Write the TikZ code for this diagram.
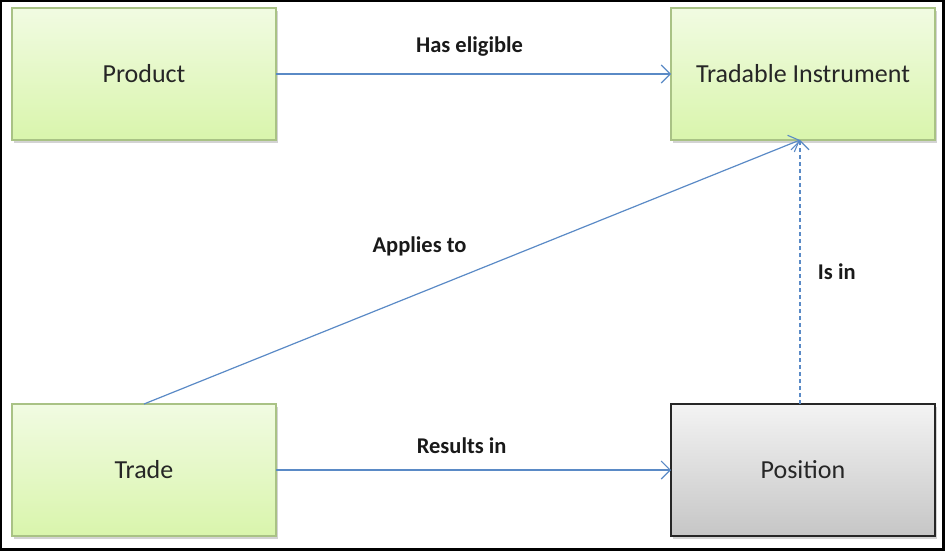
\documentclass[tikz,border=0pt]{standalone}
\usepackage{fontspec}
\setmainfont{Carlito}
\usetikzlibrary{positioning, arrows.meta, shadows}

\definecolor{boxgreentop}{HTML}{F1FBE2}
\definecolor{boxgreenbot}{HTML}{D9F5AC}
\definecolor{boxgreenline}{HTML}{A9C285}
\definecolor{boxgreytop}{HTML}{F3F3F3}
\definecolor{boxgreybot}{HTML}{C6C6C6}
\definecolor{linkblue}{HTML}{5A8AC6}

\tikzset{
  entity/.style={rectangle, draw=boxgreenline, line width=1.2pt,
    top color=boxgreentop, bottom color=boxgreenbot,
    minimum width=264pt, minimum height=132pt, outer sep=0pt,
    font=\fontsize{26}{31}\selectfont, text=black!85,
    drop shadow={shadow xshift=1.5pt, shadow yshift=-2.5pt, opacity=0.35}},
  greyentity/.style={entity, draw=black!85, line width=1.6pt,
    top color=boxgreytop, bottom color=boxgreybot},
  link/.style={draw=linkblue, line width=1.2pt,
    -{Straight Barb[length=9pt, width=18pt, line width=1.1pt]}},
  lbl/.style={font=\bfseries\fontsize{22.5}{27}\selectfont, text=black!90}
}

\begin{document}
\begin{tikzpicture}[x=1pt,y=1pt]

  \useasboundingbox (0,0) rectangle (946,-552);
  \draw[line width=2.5pt] (1.2,-1.2) rectangle (943.5,-549.5);

  \node[entity] (product) at (144,-74) {Product};
  \node[entity, right=395pt of product] (instr) {Tradable Instrument};
  \node[entity, below=264pt of product] (trade) {Trade};
  \node[greyentity, below=264pt of instr] (position) {Position};

  \draw[link] (product) -- node[lbl, above=14pt, pos=0.49] (has_eligible) {Has eligible} (instr);
  \draw[link] (trade) -- node[lbl, above=12pt, pos=0.47] (results_in) {Results in} (position);
  \draw[link] (trade.north) -- node[lbl, above=33pt, pos=0.42] (applies_to) {Applies to} ([xshift=-3pt]instr.south);
  \draw[link, dash pattern=on 4pt off 3pt] ([xshift=-3pt]position.north) -- node[lbl, right=14pt, pos=0.5] (is_in) {Is in} ([xshift=-3pt]instr.south);

\end{tikzpicture}
\end{document}
